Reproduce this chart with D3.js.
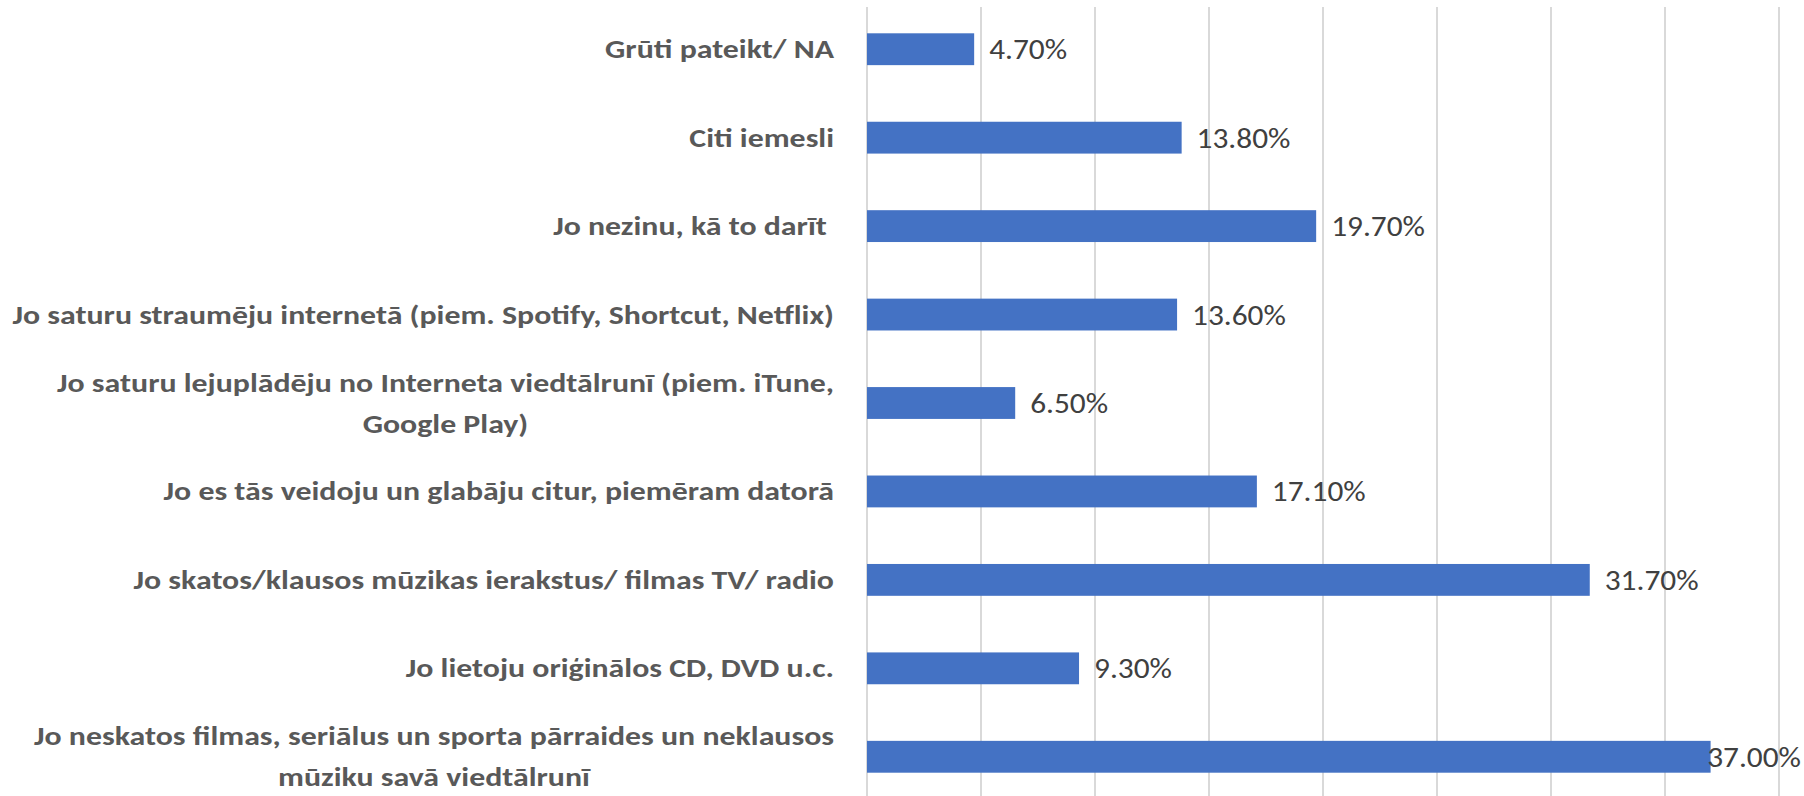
<!DOCTYPE html>
<html>
<head>
<meta charset="utf-8">
<script src="https://cdn.jsdelivr.net/npm/d3@7"></script>
<style>
  html, body { margin: 0; padding: 0; background: #fff; }
  svg { display: block; }
</style>
</head>
<body>
<svg id="chart" width="1804" height="796"></svg>
<script>
// dati
var categories = [
    ["Grūti pateikt/ NA"],
    ["Citi iemesli"],
    ["Jo nezinu, kā to darīt "],
    ["Jo saturu straumēju internetā (piem. Spotify, Shortcut, Netflix)"],
    ["Jo saturu lejuplādēju no Interneta viedtālrunī (piem. iTune,", "Google Play)"],
    ["Jo es tās veidoju un glabāju citur, piemēram datorā"],
    ["Jo skatos/klausos mūzikas ierakstus/ filmas TV/ radio"],
    ["Jo lietoju oriģinālos CD, DVD u.c."],
    ["Jo neskatos filmas, seriālus un sporta pārraides un neklausos", "mūziku savā viedtālrunī"]
];
var values = [4.7, 13.8, 19.7, 13.6, 6.5, 17.1, 31.7, 9.3, 37.0];
var xTicks = [0, 5, 10, 15, 20, 25, 30, 35, 40];

var svg = d3.select("#chart"),
    width = +svg.attr("width"),
    height = +svg.attr("height");

var x = d3.scaleLinear().domain([0, 40]).range([867, 1779]);
var y = d3.scaleBand()
    .domain(d3.range(categories.length))
    .range([5, 801])
    .paddingInner(0.64)
    .paddingOuter(0.32);

var font = "Carlito, 'Liberation Sans', sans-serif";
var labelRight = 834,   // nosaukumu labā mala
    labelStretch = 1.225,
    valueStretch = 1.08,
    lineGap = 41;

// režģa līnijas
svg.append("g")
    .selectAll("line")
    .data(xTicks)
    .enter().append("line")
    .attr("x1", function (d) { return x(d); })
    .attr("x2", function (d) { return x(d); })
    .attr("y1", 7)
    .attr("y2", height)
    .attr("stroke", "#d9d9d9")
    .attr("stroke-width", 2);

// stabiņi
svg.append("g")
    .selectAll("rect")
    .data(values)
    .enter().append("rect")
    .attr("x", x(0))
    .attr("y", function (d, i) { return y(i); })
    .attr("width", function (d) { return x(d) - x(0); })
    .attr("height", y.bandwidth())
    .attr("fill", "#4472c4");

// kategoriju nosaukumi (vairākas rindas centrētas kā Excel)
var labelG = svg.append("g")
    .attr("font-family", font)
    .attr("font-weight", "bold")
    .attr("font-size", 26)
    .attr("fill", "#595959");

categories.forEach(function (lines, i) {
    var cy = y(i) + y.bandwidth() / 2;
    var texts = lines.map(function (line, j) {
        return labelG.append("text")
            .attr("y", cy + (j - (lines.length - 1) / 2) * lineGap)
            .attr("dominant-baseline", "central")
            .style("white-space", "pre")
            .text(line);
    });
    var widths = texts.map(function (t) { return t.node().getComputedTextLength() * labelStretch; });
    var boxW = d3.max(widths);
    texts.forEach(function (t, j) {
        t.attr("textLength", widths[j]).attr("lengthAdjust", "spacingAndGlyphs");
        if (lines.length === 1) {
            t.attr("text-anchor", "end").attr("x", labelRight);
        } else {
            t.attr("text-anchor", "middle").attr("x", labelRight - boxW / 2);
        }
    });
});

// vērtību etiķetes
var valueG = svg.append("g")
    .attr("font-family", font)
    .attr("font-size", 29)
    .attr("fill", "#404040");

values.forEach(function (v, i) {
    var t = valueG.append("text")
        .attr("y", y(i) + y.bandwidth() / 2)
        .attr("dominant-baseline", "central")
        .text(v.toFixed(2) + "%");
    var tw = t.node().getComputedTextLength() * valueStretch;
    t.attr("textLength", tw).attr("lengthAdjust", "spacingAndGlyphs")
        .attr("x", Math.min(x(v) + 15, width - tw - 3));
});
</script>
</body>
</html>
